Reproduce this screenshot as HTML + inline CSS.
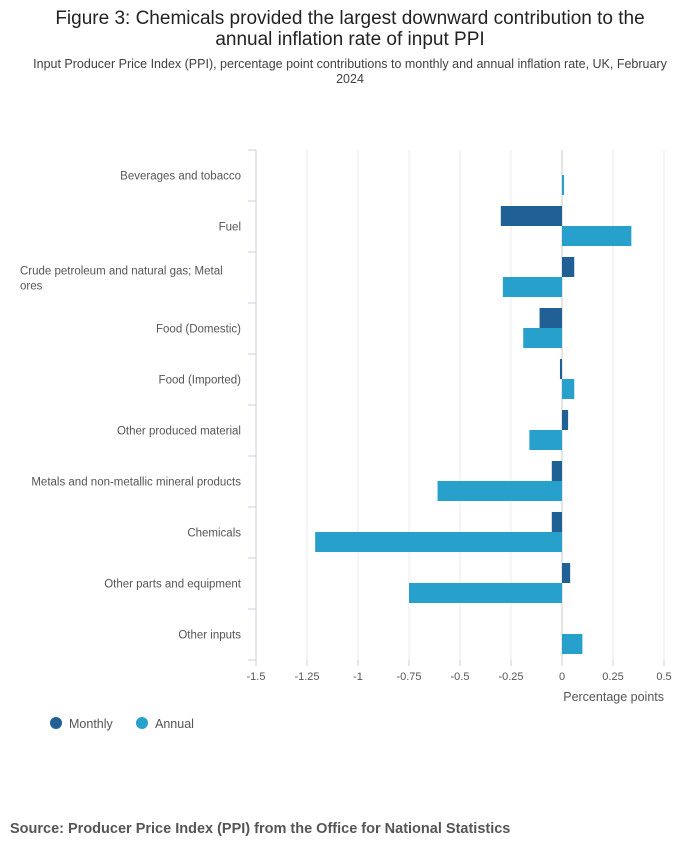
<!DOCTYPE html>
<html><head><meta charset="utf-8">
<style>
body{margin:0;width:700px;height:857px;background:#fff;font-family:"Liberation Sans",sans-serif;color:#414042;position:relative;overflow:hidden}
.t{position:absolute;left:0;width:700px;text-align:center}
</style></head><body>
<div class="t" style="top:8px;font-size:19px;line-height:21px;color:#222">Figure 3: Chemicals provided the largest downward contribution to the<br>annual inflation rate of input PPI</div>
<div class="t" style="top:57px;font-size:12.5px;line-height:15px;color:#414042">Input Producer Price Index (PPI), percentage point contributions to monthly and annual inflation rate, UK, February<br>2024</div>
<svg id="c" width="700" height="760" style="position:absolute;left:0;top:0"></svg>
<div style="position:absolute;left:10px;top:821px;font-size:14.5px;font-weight:bold;color:#555">Source: Producer Price Index (PPI) from the Office for National Statistics</div>
<script>
const categories=["Beverages and tobacco","Fuel","Crude petroleum and natural gas; Metal ores","Food (Domestic)","Food (Imported)","Other produced material","Metals and non-metallic mineral products","Chemicals","Other parts and equipment","Other inputs"];
const monthly=[0,-0.30,0.06,-0.11,-0.01,0.03,-0.05,-0.05,0.04,0];
const annual=[0.01,0.34,-0.29,-0.19,0.06,-0.16,-0.61,-1.21,-0.75,0.10];
const ticks=[-1.5,-1.25,-1,-0.75,-0.5,-0.25,0,0.25,0.5];
const tickLabels=["-1.5","-1.25","-1","-0.75","-0.5","-0.25","0","0.25","0.5"];
const svg=document.getElementById('c');const NS='http://www.w3.org/2000/svg';
function mk(t,a,p){const e=document.createElementNS(NS,t);for(const k in a)e.setAttribute(k,a[k]);(p||svg).appendChild(e);return e;}
const x0=256,x1=664,yTop=150,band=51;
const xs=v=>x0+(v+1.5)/2*(x1-x0);
const ys=i=>yTop+i*band;
ticks.forEach((t,i)=>{
 const g=mk('line',{x1:xs(t),x2:xs(t),y1:yTop,y2:660,stroke:t===0?'#c8c8c8':'#ebebeb','stroke-width':1});
 
 
 const tk=mk('line',{x1:xs(t),x2:xs(t),y1:660,y2:666,stroke:'#ccd'});
 
 
 const l=mk('text',{x:xs(t),y:680,'text-anchor':'middle','font-size':11,fill:'#555'});
 l.textContent=tickLabels[i];
 
 
});
const ax=mk('line',{x1:x0,x2:x0,y1:yTop,y2:660,stroke:'#ccd'});


for(let i=0;i<=categories.length;i++){const t=mk('line',{x1:248,x2:x0,y1:ys(i),y2:ys(i),stroke:'#ccd'});}
categories.forEach((c,i)=>{
 const cy=ys(i)+band/2;
 const lines=c.length>40?["Crude petroleum and natural gas; Metal","ores"]:[c];
 lines.forEach((ln,j)=>{
  const t=mk('text',{x:lines.length>1?20:241,y:lines.length>1?cy+j*15-3:cy+4,'text-anchor':lines.length>1?'start':'end','font-size':11.5,fill:'#555'});
  t.textContent=ln;
  
  
 });
 const m=monthly[i],a=annual[i];
 const rm=mk('rect',{x:Math.min(xs(0),xs(m)),y:ys(i)+5,width:Math.abs(xs(m)-xs(0)),height:20,fill:'#206095'});
 
 
 const ra=mk('rect',{x:Math.min(xs(0),xs(a)),y:ys(i)+25,width:Math.abs(xs(a)-xs(0)),height:20,fill:'#27a0cc'});
 
 
});
const xt=mk('text',{x:664,y:701,'text-anchor':'end','font-size':12.5,fill:'#555'});
xt.textContent='Percentage points';


[['Monthly','#206095',56],['Annual','#27a0cc',142]].forEach(([n,c,x])=>{
 const g=mk('g',{});
 
 
 mk('circle',{cx:x,cy:723,r:6,fill:c},g);
 const t=mk('text',{x:x+13,y:728,'font-size':12.5,fill:'#555'},g);t.textContent=n;
});
</script>
</body></html>
